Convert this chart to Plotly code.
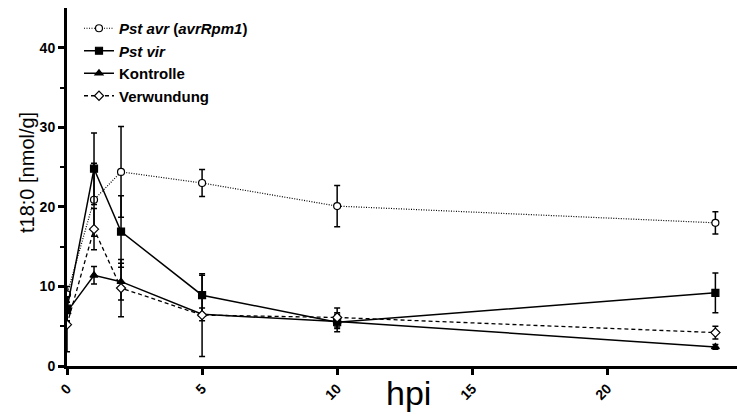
import plotly.graph_objects as go

hpi = [0, 1, 2, 5, 10, 24]

avr_y = [9.0, 20.9, 24.4, 23.0, 20.1, 18.0]
avr_err = [1.0, 4.6, 5.7, 1.7, 2.6, 1.4]

vir_y = [7.2, 24.8, 16.9, 8.9, 5.5, 9.2]
vir_err = [1.5, 4.5, 4.5, 2.5, 1.2, 2.5]

kon_y = [6.8, 11.4, 10.6, 6.5, 5.6, 2.4]
kon_err = [1.2, 1.1, 2.3, 0.8, 0.9, 0.3]

ver_y = [5.2, 17.2, 9.8, 6.4, 6.1, 4.2]
ver_err = [3.4, 2.6, 3.6, 5.2, 1.2, 0.8]

names = ["<b><i>Pst avr</i> (<i>avrRpm1</i>)</b>", "<b><i>Pst vir</i></b>",
         "<b>Kontrolle</b>", "<b>Verwundung</b>"]

x_ticks = [0, 5, 10, 15, 20, 25]
y_ticks = [0, 10, 20, 30, 40]

W, H = 737, 419
L, R, T, B = 67, 0, 8, 53
pw, ph = W - L - R, H - T - B

fig = go.Figure()

series = [
    (avr_y, avr_err, "1px,1.5px", 1.2, "circle", True, names[0]),
    (vir_y, vir_err, "solid", 1.5, "square", False, names[1]),
    (kon_y, kon_err, "solid", 1.5, "triangle-up", False, names[2]),
    (ver_y, ver_err, "4px,3px", 1.3, "diamond", True, names[3]),
]

for ys, es, dash, w, sym, hollow, nm in series:
    fig.add_trace(go.Scatter(
        x=hpi, y=ys, name=nm, mode="lines+markers",
        line=dict(color="black", dash=dash, width=w),
        marker=dict(symbol=sym, size=7, color="white" if hollow else "black",
                    line=dict(color="black", width=1.2)),
        error_y=dict(type="data", array=es, visible=True, color="black",
                     thickness=1.5, width=3),
    ))

fig.add_annotation(text="t18:0 [nmol/g]", textangle=-90, showarrow=False,
                   xref="paper", yref="paper",
                   x=(27 - L) / pw, y=(H - B - 173) / ph,
                   xanchor="center", yanchor="middle",
                   font=dict(size=20, color="black"))
fig.add_annotation(text="hpi", showarrow=False,
                   xref="paper", yref="paper",
                   x=(408 - L) / pw, y=(H - B - 393) / ph,
                   xanchor="center", yanchor="middle",
                   font=dict(size=34, color="black"))

fig.update_layout(
    width=W, height=H,
    margin=dict(l=L, r=R, t=T, b=B),
    paper_bgcolor="white", plot_bgcolor="white",
    font=dict(family="Arial, Liberation Sans, sans-serif", color="black"),
    showlegend=True,
    legend=dict(x=(79 - L) / pw, y=(H - B - 12) / ph, xanchor="left", yanchor="top",
                bgcolor="rgba(0,0,0,0)", font=dict(size=15, color="black"),
                tracegroupgap=0),
    xaxis=dict(range=[0, 24.8], tickvals=x_ticks, ticktext=["<b>%d</b>" % v for v in x_ticks],
               tickangle=-45, showgrid=False, zeroline=False,
               showline=True, linewidth=3, linecolor="black",
               ticks="outside", ticklen=6, tickwidth=3, tickcolor="black",
               tickfont=dict(size=14, color="black")),
    yaxis=dict(range=[0, 45], tickvals=y_ticks, ticktext=["<b>%d</b>" % v for v in y_ticks],
               showgrid=False, zeroline=False,
               showline=True, linewidth=3, linecolor="black",
               ticks="outside", ticklen=6, tickwidth=3, tickcolor="black",
               tickfont=dict(size=14, color="black"),
               minor=dict(tickvals=[5, 15, 25, 35], ticks="outside", ticklen=4,
                          tickwidth=2, tickcolor="black")),
)

fig.write_html("out.html")
